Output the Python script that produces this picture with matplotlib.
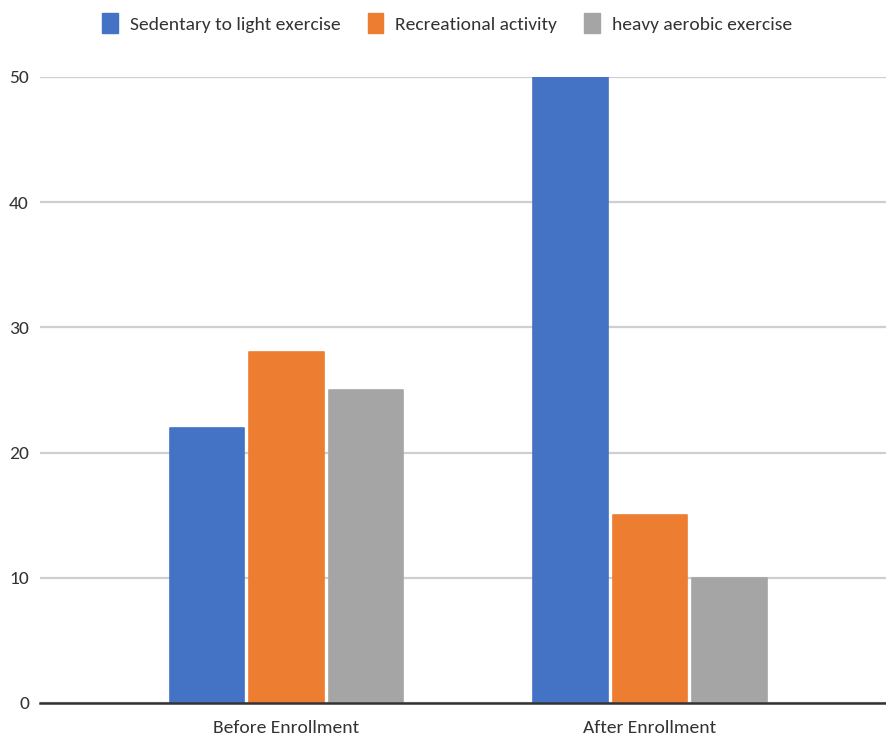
import matplotlib
matplotlib.use("Agg")
import matplotlib.pyplot as plt
import numpy as np
from matplotlib.patches import Patch

plt.rcParams['font.family'] = ['Carlito', 'DejaVu Sans']

groups = ['Before Enrollment', 'After Enrollment']
series = ['Sedentary to light exercise', 'Recreational activity', 'heavy aerobic exercise']
sedentary = [22, 50]
recreational = [28, 15]
heavy = [25, 10]
y_ticks = [0, 10, 20, 30, 40, 50]

COLORS = ['#4472c4', '#ed7d31', '#a5a5a5']
TEXT = '#333333'

fig = plt.figure(figsize=(8.87, 7.41), dpi=100)
ax = fig.add_axes([0.0451, 0.0513, 0.9549, 0.8448])

x = np.arange(len(groups))
offset = 0.2187
width = 0.206
for k, (vals, color) in enumerate(zip([sedentary, recreational, heavy], COLORS)):
    # same-colour round-joined edge gives the slightly rounded corners
    ax.bar(x + (k - 1) * offset, vals, width, color=color, edgecolor=color,
           linewidth=1.2, joinstyle='round', zorder=3)

ax.set_xlim(-0.678, 1.652)
ax.set_ylim(0, 50)
ax.set_xticks(x)
ax.set_xticklabels(groups)
ax.set_yticks(y_ticks)

ax.grid(axis='y', color='#cfcfcf', linewidth=1.6, zorder=0)
ax.tick_params(axis='both', length=0, labelsize=14, labelcolor=TEXT)
ax.tick_params(axis='y', pad=8)
ax.tick_params(axis='x', pad=12)
for side in ['top', 'right', 'left']:
    ax.spines[side].set_visible(False)
ax.spines['bottom'].set_color('#333333')
ax.spines['bottom'].set_linewidth(1.8)
ax.spines['bottom'].set_zorder(4)

handles = [Patch(facecolor=c, edgecolor=c, linewidth=1, joinstyle='round') for c in COLORS]
fig.legend(handles, series, loc='center', bbox_to_anchor=(0.504, 0.969), ncol=3,
           frameon=False, fontsize=14, labelcolor=TEXT, handlelength=0.8, handleheight=1.2,
           handletextpad=0.62, columnspacing=1.4)

fig.savefig('out.png', dpi=100)
